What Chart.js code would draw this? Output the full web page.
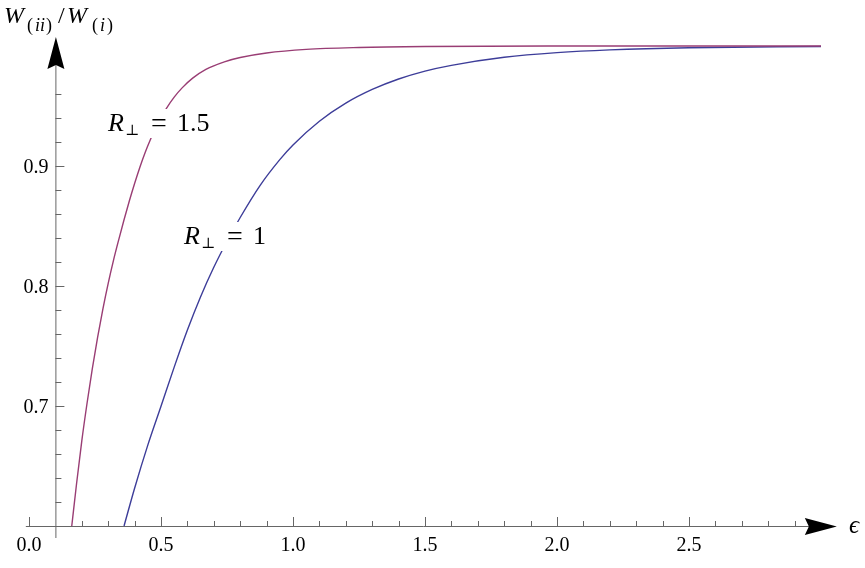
<!DOCTYPE html>
<html>
<head>
<meta charset="utf-8">
<script src="https://cdn.jsdelivr.net/npm/chart.js@4"></script>
<style>
  html, body { margin: 0; padding: 0; background: #fff; }
  #wrap { width: 865px; height: 568px; }
</style>
</head>
<body>
<div id="wrap"><canvas id="ratioChart" width="865" height="568"></canvas></div>
<script>
// values
const epsR15 = [0.162, 0.18, 0.20, 0.22, 0.24, 0.26, 0.28, 0.30, 0.32, 0.34, 0.36, 0.38, 0.40, 0.42, 0.44, 0.46, 0.48, 0.50, 0.52, 0.55, 0.58, 0.62, 0.67, 0.74, 0.80, 0.90, 1.05, 1.25, 1.5, 2.0, 3.0];
const wR15 = [0.600, 0.635, 0.671, 0.7025, 0.7314, 0.7574, 0.781, 0.8022, 0.8214, 0.8387, 0.8552, 0.8708, 0.8854, 0.899, 0.9113, 0.9221, 0.9319, 0.9404, 0.9479, 0.9574, 0.9651, 0.9732, 0.9805, 0.9868, 0.9904, 0.9942, 0.9972, 0.9988, 0.9996, 0.99995, 1.0];

const epsR1 = [0.36, 0.40, 0.45, 0.50, 0.55, 0.60, 0.65, 0.70, 0.75, 0.80, 0.875, 0.95, 1.0, 1.1, 1.2, 1.3, 1.4, 1.5, 1.6, 1.8, 2.0, 2.2, 2.5, 3.0];
const wR1 = [0.600, 0.6315, 0.6674, 0.6998, 0.7324, 0.7633, 0.7911, 0.8156, 0.8373, 0.8571, 0.8837, 0.9053, 0.9175, 0.9373, 0.9524, 0.9638, 0.9725, 0.9791, 0.9839, 0.9906, 0.9945, 0.9968, 0.9986, 0.9996];

const xMajorTicks = [0, 0.5, 1.0, 1.5, 2.0, 2.5];
const xTickLabels = ["0.0", "0.5", "1.0", "1.5", "2.0", "2.5"];
const yMajorTicks = [0.7, 0.8, 0.9];
const yTickLabels = ["0.7", "0.8", "0.9"];

const toPoints = (xs, ys) => xs.map((x, i) => ({ x: x, y: ys[i] }));

const SERIF = '"Liberation Serif"';
const axisColor = "#666";

// Arrowhead with a small notch at the back
const drawArrow = (ctx, tipX, tipY, dirX, dirY, len, half, notch) => {
  const px = -dirY, py = dirX;
  const bx = tipX - dirX * len, by = tipY - dirY * len;
  ctx.beginPath();
  ctx.moveTo(tipX, tipY);
  ctx.lineTo(bx + px * half, by + py * half);
  ctx.lineTo(bx + dirX * notch, by + dirY * notch);
  ctx.lineTo(bx - px * half, by - py * half);
  ctx.closePath();
  ctx.fillStyle = "#000";
  ctx.fill();
};

// Mathematica style axes crossing at (0.1, 0.6)
const axesPlugin = {
  id: "mmaAxes",
  beforeDatasetsDraw(chart) {
    const ctx = chart.ctx;
    const xs = chart.scales.x, ys = chart.scales.y;
    const y0 = ys.getPixelForValue(0.6);
    const x0 = xs.getPixelForValue(0.1);
    ctx.save();
    ctx.strokeStyle = axisColor;
    ctx.lineWidth = 1;

    // x axis
    ctx.beginPath();
    ctx.moveTo(xs.getPixelForValue(-0.012), y0 + 0.5);
    ctx.lineTo(xs.getPixelForValue(3.0), y0 + 0.5);
    ctx.stroke();
    // y axis
    ctx.beginPath();
    ctx.moveTo(x0 + 0.5, ys.getPixelForValue(0.59));
    ctx.lineTo(x0 + 0.5, ys.getPixelForValue(0.985));
    ctx.stroke();

    // x ticks
    for (let i = 0; i <= 29; i++) {
      if (i === 1) continue;
      const major = i % 5 === 0;
      const px = Math.round(xs.getPixelForValue(i / 10)) + 0.5;
      ctx.beginPath();
      ctx.moveTo(px, y0);
      ctx.lineTo(px, y0 - (major ? 9 : 5));
      ctx.stroke();
    }
    // y ticks
    for (let i = 31; i <= 48; i++) {
      const major = i % 5 === 0;
      const py = Math.round(ys.getPixelForValue(i / 50)) + 0.5;
      ctx.beginPath();
      ctx.moveTo(x0, py);
      ctx.lineTo(x0 + (major ? 9 : 6), py);
      ctx.stroke();
    }

    // arrows
    drawArrow(ctx, xs.getPixelForValue(3.06), y0 + 0.5, 1, 0, 32, 8.5, 4);
    drawArrow(ctx, x0 + 0.5, ys.getPixelForValue(1.0075), 0, -1, 32, 8.5, 4);

    // tick labels
    ctx.fillStyle = "#000";
    ctx.font = "20px " + SERIF;
    ctx.textAlign = "center";
    ctx.textBaseline = "alphabetic";
    xMajorTicks.forEach((v, i) => {
      ctx.fillText(xTickLabels[i], xs.getPixelForValue(v), y0 + 25);
    });
    ctx.textAlign = "right";
    yMajorTicks.forEach((v, i) => {
      ctx.fillText(yTickLabels[i], x0 - 7, ys.getPixelForValue(v) + 7);
    });
    ctx.restore();
  },
  afterDatasetsDraw(chart) {
    const ctx = chart.ctx;
    ctx.save();
    ctx.fillStyle = "#000";
    ctx.textBaseline = "alphabetic";
    ctx.textAlign = "left";

    const put = (txt, font, x, base) => {
      ctx.font = font;
      ctx.fillText(txt, x, base);
      return x + ctx.measureText(txt).width;
    };

    // y axis title  W_(ii) / W_(i)
    put("W", "italic 24px " + SERIF, 4, 23);
    put("(", "18px " + SERIF, 27, 31);
    put("ii", "italic 18px " + SERIF, 35, 31);
    put(")", "18px " + SERIF, 46, 31);
    put("/", "24px " + SERIF, 58, 23);
    put("W", "italic 24px " + SERIF, 67, 23);
    put("(", "18px " + SERIF, 92, 31);
    put("i", "italic 18px " + SERIF, 100, 31);
    put(")", "18px " + SERIF, 107, 31);

    // x axis title
    put("\u03F5", "italic 25px " + SERIF, 849, 533);

    // curve labels with white boxes behind them
    const curveLabel = (lx, base, value) => {
      ctx.font = "26px " + SERIF;
      const wVal = ctx.measureText(value).width;
      ctx.fillStyle = "#fff";
      ctx.fillRect(lx - 3, base - 22, 69 + wVal + 6, 29);
      ctx.fillStyle = "#000";
      const afterR = put("R", "italic 26px " + SERIF, lx, base);
      put("\u22A5", '15px "DejaVu Serif"', afterR + 1, base + 4);
      put("=", "28px " + SERIF, lx + 43, base + 1);
      put(value, "26px " + SERIF, lx + 69, base);
    };
    curveLabel(108, 131, "1.5");
    curveLabel(184, 244, "1");
    ctx.restore();
  },
};

const ctx = document.getElementById("ratioChart").getContext("2d");
new Chart(ctx, {
  type: "line",
  data: {
    datasets: [
      {
        label: "R = 1.5",
        data: toPoints(epsR15, wR15),
        borderColor: "#993d74",
        borderWidth: 1.4,
        pointRadius: 0,
        cubicInterpolationMode: "monotone",
        clip: 6,
      },
      {
        label: "R = 1",
        data: toPoints(epsR1, wR1),
        borderColor: "#3d3d99",
        borderWidth: 1.4,
        pointRadius: 0,
        cubicInterpolationMode: "monotone",
        clip: 6,
      },
    ],
  },
  options: {
    responsive: false,
    animation: false,
    devicePixelRatio: 1,
    layout: { padding: { left: 29, right: 44, top: 46, bottom: 42 } },
    plugins: { legend: { display: false }, tooltip: { enabled: false } },
    scales: {
      x: { type: "linear", min: 0, max: 3.0, display: false },
      y: { type: "linear", min: 0.6, max: 1.0, display: false },
    },
  },
  plugins: [axesPlugin],
});
</script>
</body>
</html>
